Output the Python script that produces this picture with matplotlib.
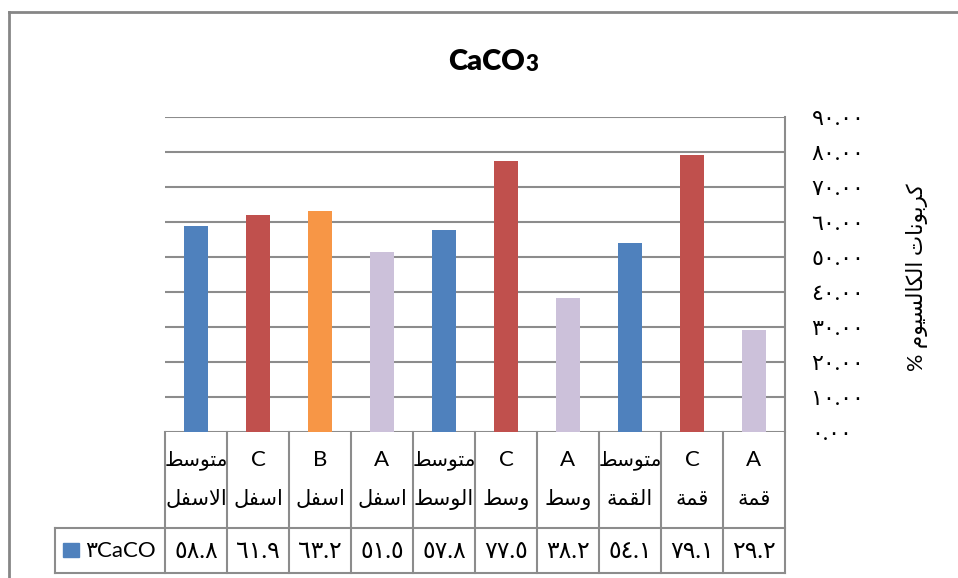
import matplotlib
matplotlib.use("Agg")
import matplotlib.pyplot as plt
import numpy as np
from matplotlib.lines import Line2D
from matplotlib.patches import Rectangle
from matplotlib.transforms import blended_transform_factory

plt.rcParams['font.family'] = ['Lato', 'DejaVu Sans']

# ---- data (logical order, first item drawn at the right) ----
labels_top = ["A", "C", "متوسط", "A", "C", "متوسط", "A", "B", "C", "متوسط"]
labels_bottom = ["قمة", "قمة", "القمة", "وسط", "وسط", "الوسط", "اسفل", "اسفل", "اسفل", "الاسفل"]
values = [29.2, 79.1, 54.1, 38.2, 77.5, 57.8, 51.5, 63.2, 61.9, 58.8]
bar_colors = ["#CCC1DA", "#C0504D", "#4F81BD", "#CCC1DA", "#C0504D",
              "#4F81BD", "#CCC1DA", "#F79646", "#C0504D", "#4F81BD"]
yticks = [0, 10, 20, 30, 40, 50, 60, 70, 80, 90]
title_main = "CaCO"
title_sub = "3"
ylabel = "كربونات الكالسيوم %"
series_name = "٣CaCO"

# ---- minimal Arabic shaping (presentation forms, visual order) ----
FORMS = {
    'ا': ('\uFE8D', '\uFE8E', None, None),
    'ب': ('\uFE8F', '\uFE90', '\uFE91', '\uFE92'),
    'ة': ('\uFE93', '\uFE94', None, None),
    'ت': ('\uFE95', '\uFE96', '\uFE97', '\uFE98'),
    'ر': ('\uFEAD', '\uFEAE', None, None),
    'س': ('\uFEB1', '\uFEB2', '\uFEB3', '\uFEB4'),
    'ط': ('\uFEC1', '\uFEC2', '\uFEC3', '\uFEC4'),
    'ف': ('\uFED1', '\uFED2', '\uFED3', '\uFED4'),
    'ق': ('\uFED5', '\uFED6', '\uFED7', '\uFED8'),
    'ك': ('\uFED9', '\uFEDA', '\uFEDB', '\uFEDC'),
    'ل': ('\uFEDD', '\uFEDE', '\uFEDF', '\uFEE0'),
    'م': ('\uFEE1', '\uFEE2', '\uFEE3', '\uFEE4'),
    'ن': ('\uFEE5', '\uFEE6', '\uFEE7', '\uFEE8'),
    'و': ('\uFEED', '\uFEEE', None, None),
    'ي': ('\uFEF1', '\uFEF2', '\uFEF3', '\uFEF4'),
}
LAM_ALEF = ('\uFEFB', '\uFEFC')


def dual(ch):
    return ch in FORMS and FORMS[ch][2] is not None


def is_arabic(text):
    return any(c in FORMS for c in text)


def shape(text):
    if not is_arabic(text):
        return text
    out = []
    i = 0
    n = len(text)
    while i < n:
        c = text[i]
        if c not in FORMS:
            out.append(c)
            i += 1
            continue
        prev = text[i - 1] if i > 0 else ''
        joins_prev = dual(prev)
        if c == 'ل' and i + 1 < n and text[i + 1] == 'ا':
            out.append(LAM_ALEF[1] if joins_prev else LAM_ALEF[0])
            i += 2
            continue
        nxt = text[i + 1] if i + 1 < n else ''
        joins_next = dual(c) and nxt in FORMS
        iso, fin, ini, med = FORMS[c]
        if joins_prev and joins_next:
            out.append(med)
        elif joins_prev:
            out.append(fin)
        elif joins_next:
            out.append(ini)
        else:
            out.append(iso)
        i += 1
    return ''.join(reversed(out))


AR_DIGITS = str.maketrans('0123456789', '٠١٢٣٤٥٦٧٨٩')


def arabic_num(v, fmt):
    return format(v, fmt).translate(AR_DIGITS)


# ---- figure ----
W, H = 958, 578
fig = plt.figure(figsize=(W / 100, H / 100), dpi=100)


def fx(px):
    return px / W


def fy(py):
    return 1 - py / H


ax = fig.add_axes([fx(165), fy(432), fx(785) - fx(165), fy(117) - fy(432)])
x = np.arange(len(values))
ax.bar(x, values, width=0.4, color=bar_colors, zorder=3)
ax.set_xlim(9.5, -0.5)
ax.set_ylim(0, 90)

grid_c = '#8C8C8C'
ax.set_yticks(yticks)
ax.set_yticklabels([arabic_num(t, '.2f') for t in yticks], fontsize=16)
ax.yaxis.tick_right()
ax.tick_params(axis='y', length=0, pad=19)
ax.set_xticks([])
ax.yaxis.grid(True, color=grid_c, lw=1.5, zorder=0)
for s in ['left', 'top', 'bottom']:
    ax.spines[s].set_visible(False)
ax.spines['right'].set_color(grid_c)
ax.spines['right'].set_linewidth(1.5)

ax.text(fx(917), fy(277), shape(ylabel), transform=fig.transFigure,
        rotation=90, ha='center', va='center', fontsize=15.5)

# chart title with a smaller trailing digit
fig.text(fx(525), fy(62), title_main, ha='right', va='center',
         fontsize=21, fontweight='heavy')
fig.text(fx(525), fy(62) - 0.004, title_sub, ha='left', va='center',
         fontsize=16, fontweight='heavy')

# ---- data table under the plot ----
tr = blended_transform_factory(ax.transData, fig.transFigure)
line_kw = dict(color=grid_c, lw=1.5, clip_on=False)
for k in range(len(values) + 1):
    ax.add_line(Line2D([k - 0.5, k - 0.5], [fy(432), fy(573)], transform=tr, **line_kw))
for yy in (528, 573):
    fig.add_artist(Line2D([fx(55), fx(785)], [fy(yy), fy(yy)], transform=fig.transFigure, **line_kw))
fig.add_artist(Line2D([fx(55), fx(55)], [fy(528), fy(573)], transform=fig.transFigure, **line_kw))

for i in range(len(values)):
    top = labels_top[i]
    ax.text(i, fy(460), shape(top), transform=tr, ha='center', va='center',
            fontsize=14.5 if is_arabic(top) else 16)
    ax.text(i, fy(499), shape(labels_bottom[i]), transform=tr, ha='center', va='center', fontsize=15)
    ax.text(i, fy(551), arabic_num(values[i], '.1f'), transform=tr, ha='center', va='center', fontsize=17)

fig.add_artist(Rectangle((fx(63), fy(557)), fx(79) - fx(63), fy(543) - fy(557),
                         transform=fig.transFigure, color=bar_colors[2]))
fig.text(fx(85), fy(551), series_name, ha='left', va='center', fontsize=16)

# ---- outer chart frame ----
fig.add_artist(Line2D([fx(9), fx(960)], [fy(12), fy(12)], transform=fig.transFigure, color='#868686', lw=2))
fig.add_artist(Line2D([fx(9), fx(9)], [fy(12), fy(580)], transform=fig.transFigure, color='#868686', lw=2))

fig.savefig('out.png', dpi=100)
